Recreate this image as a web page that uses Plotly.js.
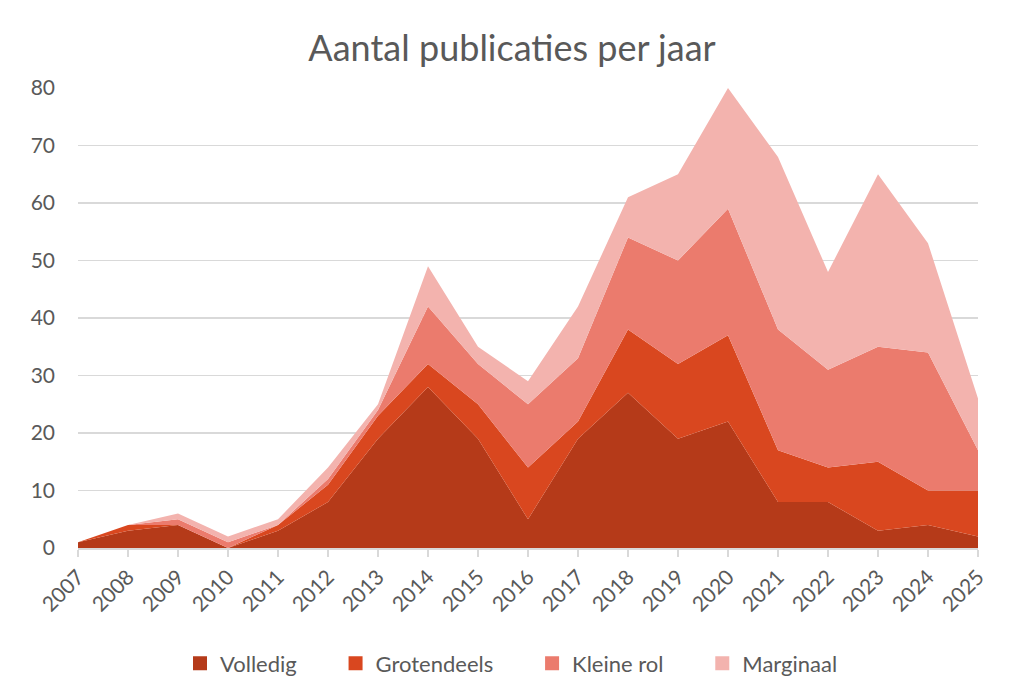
<!DOCTYPE html>
<html>
<head>
<meta charset="utf-8">
<script src="https://cdn.plot.ly/plotly-3.0.1.min.js"></script>
<style>
  html, body { margin: 0; padding: 0; background: #fff; }
  #chart { width: 1024px; height: 691px; }
</style>
</head>
<body>
<div id="chart"></div>
<script>
// jaren en aantallen per categorie (gelezen uit de figuur)
const years = [2007, 2008, 2009, 2010, 2011, 2012, 2013, 2014, 2015, 2016, 2017, 2018, 2019, 2020, 2021, 2022, 2023, 2024, 2025];
const volledig    = [1, 3, 4, 0, 3, 8, 19, 28, 19, 5, 19, 27, 19, 22, 8, 8, 3, 4, 2];
const grotendeels = [0, 1, 0, 0, 1, 3, 4, 4, 6, 9, 3, 11, 13, 15, 9, 6, 12, 6, 8];
const kleineRol   = [0, 0, 1, 1, 0, 1, 1, 10, 7, 11, 11, 16, 18, 22, 21, 17, 20, 24, 7];
const marginaal   = [0, 0, 1, 1, 1, 2, 1, 7, 3, 4, 9, 7, 15, 21, 30, 17, 30, 19, 9];

const names  = ["Volledig", "Grotendeels", "Kleine rol", "Marginaal"];
const colors = ["#B53A19", "#D9471F", "#EB7B6D", "#F3B3AE"];
const series = [volledig, grotendeels, kleineRol, marginaal];

const FONT = "Lato, 'Open Sans', sans-serif";
const GREY = "#595959";

const traces = series.map((s, i) => ({
    x: years,
    y: s,
    name: names[i],
    type: "scatter",
    mode: "lines",
    stackgroup: "one",
    line: { width: 0, color: colors[i] },
    fillcolor: colors[i],
    showlegend: false
}));

// legenda met vierkantjes zoals in Excel
names.forEach((n, i) => {
    traces.push({
        x: [null], y: [null],
        name: n + "\u00a0\u00a0\u00a0\u00a0\u00a0\u00a0",
        type: "scatter",
        mode: "markers",
        marker: { symbol: "square", size: 14, color: colors[i] },
        showlegend: true
    });
});

const layout = {
    width: 1024,
    height: 691,
    paper_bgcolor: "#fff",
    plot_bgcolor: "#fff",
    margin: { l: 78, r: 46, t: 88, b: 143 },
    title: {
        text: "Aantal publicaties per jaar",
        font: { family: FONT, size: 36, color: GREY },
        x: 0.5, xanchor: "center",
        y: 0.93, yanchor: "middle"
    },
    xaxis: {
        range: [2007, 2025],
        tickmode: "array",
        tickvals: years,
        ticktext: years.map(String),
        tickangle: -45,
        ticks: "outside",
        ticklen: 7,
        tickwidth: 1.5,
        tickcolor: "#d9d9d9",
        showgrid: false,
        showline: true,
        linecolor: "#d9d9d9",
        linewidth: 1.5,
        zeroline: false,
        automargin: false,
        tickfont: { family: FONT, size: 21, color: GREY }
    },
    yaxis: {
        range: [0, 80],
        dtick: 10,
        showgrid: true,
        gridcolor: "#d9d9d9",
        gridwidth: 1.5,
        zeroline: false,
        showline: false,
        ticks: "",
        ticklabelstandoff: 22,
        automargin: false,
        tickfont: { family: FONT, size: 21, color: GREY }
    },
    legend: {
        orientation: "h",
        x: 0.5, xanchor: "center",
        yref: "container",
        y: 0.04, yanchor: "middle",
        font: { family: FONT, size: 22, color: GREY },
        traceorder: "normal",
        itemwidth: 30
    },
    showlegend: true
};

Plotly.newPlot("chart", traces, layout, { displayModeBar: false, staticPlot: true });
</script>
</body>
</html>
